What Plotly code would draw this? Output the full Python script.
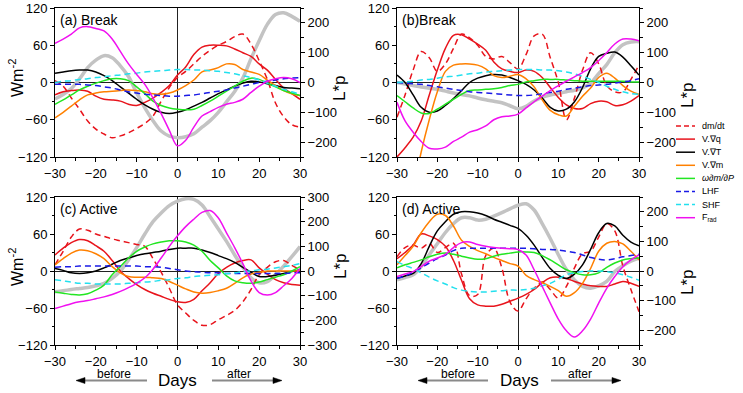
import plotly.graph_objects as go

# ---------------- data (days -30..30 step 2) ----------------
days = list(range(-30, 31, 2))

# Panel (a) Break
a_dmdt  = [3,-6,-25,-43,-62,-75,-83,-89,-86,-81,-74,-66,-54,-30,-8,8,18,30,42,52,60,66,74,78,62,35,5,-33,-55,-68,-72]
a_vq    = [-20,-15,-13,-12,-14,-22,-27,-28,-30,-35,-37,-32,-25,-16,-5,12,25,45,57,60,60,59,54,48,42,30,20,5,-9,-18,-27]
a_vt    = [15,17,19,20,20,17,11,3,-7,-17,-27,-36,-43,-48,-50,-48,-44,-38,-32,-25,-18,-12,-6,-1,2,1,-2,-5,-8,-9,-10]
a_vm    = [-57,-48,-38,-28,-20,-17,-15,-14,-13,-12,-13,-15,-18,-19,-17,-12,-5,4,17,20,24,30,29,21,17,13,4,-5,-13,-18,-21]
a_omega = [-35,-28,-20,-12,-6,-1,3,6,6,3,-7,-18,-30,-37,-41,-43,-44,-43,-37,-30,-22,-14,-6,2,7,5,-1,-7,-13,-17,-21]
a_lhf   = [-3,-3,-3,-3,-4,-5,-7,-9,-12,-15,-17,-19,-20,-21,-22,-22,-21,-20,-18,-16,-14,-12,-9,-6,-3,0,2,4,6,7,8]
a_shf   = [0,2,3,5,6,8,9,11,12,14,15,17,18,19,20,21,21,20,20,19,18,16,14,11,8,4,-1,-6,-11,-15,-19]
a_frad  = [63,70,78,88,90,87,83,70,50,30,13,-3,-25,-50,-77,-102,-93,-72,-54,-47,-40,-35,-32,-27,-16,-6,2,6,8,6,0]
a_lp    = [-55,-40,-20,12,50,75,90,83,56,20,-35,-85,-128,-163,-180,-185,-182,-172,-150,-128,-100,-65,-30,15,80,140,195,228,234,222,205]

# Panel (b) Break
b_dmdt  = [-56,-20,20,50,40,18,30,55,78,72,60,42,38,42,32,22,45,75,78,40,0,-60,-25,20,48,30,-5,-15,-15,5,28]
b_vq    = [-120,-105,-88,-62,-20,20,55,76,77,70,62,52,33,22,18,16,20,18,8,-8,-24,-36,-42,-42,-34,-30,-31,-37,-36,-30,-21]
b_vt    = [12,0,-20,-40,-48,-46,-37,-26,-13,0,7,11,13,12,8,3,-3,-12,-25,-40,-46,-43,-31,-8,22,42,47,49,41,27,12]
b_vm    = [-280,-230,-175,-112,-60,-15,18,28,30,30,28,22,11,8,10,13,6,-7,-28,-45,-52,-54,-38,-22,-9,8,15,7,-5,-14,-19]
b_omega = [-21,-31,-41,-49,-50,-43,-35,-27,-19,-13,-12,-11,-10,-8,-5,-3,1,3,5,5,5,4,3,2,2,2,2,2,2,1,1]
b_lhf   = [0,-1,-2,-3,-5,-7,-9,-11,-13,-15,-16,-17,-18,-19,-20,-21,-21,-20,-18,-16,-14,-11,-9,-7,-5,-4,-3,-1,1,3,6]
b_shf   = [0,1,2,4,5,7,9,10,12,14,15,17,18,19,20,21,21,21,20,20,19,17,14,10,5,0,-6,-11,-15,-18,-19]
b_frad  = [-32,-62,-80,-95,-106,-107,-104,-95,-88,-80,-76,-70,-60,-55,-54,-51,-41,-31,-22,-13,-5,2,9,16,24,35,48,62,70,70,67]
b_lp    = [0,-5,-10,-15,-19,-23,-29,-35,-40,-45,-52,-58,-63,-68,-78,-88,-80,-62,-50,-42,-37,-31,-26,-18,-3,30,60,100,127,136,137]

# Panel (c) Active
c_dmdt  = [10,32,55,68,66,60,56,52,49,46,43,40,20,-2,-28,-55,-68,-80,-88,-87,-79,-72,-64,-50,-30,-6,6,15,17,9,2]
c_vq    = [26,37,46,51,49,41,32,17,0,-12,-22,-30,-36,-41,-46,-50,-51,-46,-32,-19,-4,6,13,17,18,5,-5,-14,-19,-22,-23]
c_vt    = [4,1,-3,-4,-3,0,5,11,17,21,25,28,30,32,35,37,37,37,34,30,25,20,14,6,-2,-9,-9,-7,-4,-1,2]
c_vm    = [10,20,29,34,33,28,20,7,-3,-9,-10,-10,-11,-12,-17,-23,-29,-34,-36,-35,-32,-28,-20,-11,-5,-2,0,0,0,0,1]
c_omega = [-34,-36,-38,-39,-37,-31,-23,-6,7,21,32,39,44,47,49,49,47,42,32,17,5,-8,-16,-19,-20,-18,-14,-10,-6,0,7]
c_lhf   = [6,7,7,8,8,8,8,8,8,8,8,7,7,6,4,2,0,-1,-2,-3,-3,-4,-4,-4,-4,-4,-4,-4,-4,-3,-3]
c_shf   = [-14,-16,-18,-20,-20,-21,-21,-21,-21,-20,-19,-18,-17,-15,-14,-12,-11,-9,-8,-7,-6,-4,-3,-1,0,2,3,5,7,9,12]
c_frad  = [-61,-57,-53,-50,-48,-45,-42,-38,-33,-27,-20,-11,3,21,40,57,72,84,95,98,86,62,38,12,-16,-35,-39,-35,-24,-12,4]
c_lp    = [-84,-80,-75,-71,-67,-60,-50,-30,0,45,95,150,200,235,265,283,293,290,268,220,170,120,65,15,-28,-48,-43,-15,20,58,99]

# Panel (d) Active
d_dmdt  = [23,38,42,37,45,30,38,45,-5,-40,-38,25,37,5,-50,-65,-45,-28,-18,-30,-44,-25,5,28,32,55,77,65,8,-30,-66]
d_vq    = [20,30,42,60,57,51,40,17,-15,-45,-55,-57,-57,-54,-49,-44,-38,-30,-19,-11,-10,-12,-17,-21,-24,-25,-25,-21,-17,-20,-25]
d_vt    = [-12,-8,-4,12,40,65,80,92,96,96,94,90,84,79,74,69,58,42,22,4,-7,-12,-5,10,35,62,77,73,58,47,41]
d_vm    = [10,25,40,62,80,92,90,73,50,40,33,28,22,17,12,8,-7,-14,-19,-25,-32,-41,-35,-20,4,32,45,48,44,32,18]
d_omega = [5,10,14,18,23,27,29,27,24,21,19,20,24,27,29,31,31,30,25,18,10,2,-3,-6,-6,-3,6,13,18,20,21]
d_lhf   = [-12,-8,-2,5,13,20,26,33,37,37,37,37,37,37,37,37,37,36,35,35,34,32,30,26,22,19,18,20,23,25,27]
d_shf   = [15,9,4,-3,-10,-16,-21,-27,-31,-33,-34,-34,-33,-32,-31,-31,-30,-28,-24,-20,-13,-6,-3,-1,0,0,-1,-3,-6,-10,-15]
d_frad  = [-9,-5,-1,7,16,21,27,38,46,47,43,40,38,37,36,35,26,2,-25,-52,-78,-97,-107,-97,-78,-52,-28,-9,7,18,26]
d_lp    = [-30,-22,-13,15,55,92,130,160,180,180,172,175,185,197,210,222,227,206,160,110,55,5,-30,-52,-58,-50,-35,-2,18,33,43]

series_names = ["dm/dt", "V.\u2207q", "V.\u2207T", "V.\u2207m", "<i>\u03c9\u2202m/\u2202P</i>", "LHF", "SHF", "F<sub>rad</sub>"]
panel_data = [
    ("(a) Break", [a_dmdt, a_vq, a_vt, a_vm, a_omega, a_lhf, a_shf, a_frad], a_lp),
    ("(b)Break", [b_dmdt, b_vq, b_vt, b_vm, b_omega, b_lhf, b_shf, b_frad], b_lp),
    ("(c) Active", [c_dmdt, c_vq, c_vt, c_vm, c_omega, c_lhf, c_shf, c_frad], c_lp),
    ("(d) Active", [d_dmdt, d_vq, d_vt, d_vm, d_omega, d_lhf, d_shf, d_frad], d_lp),
]

# ---------------- styling / layout ----------------
W, H = 743, 393
FONT = "Liberation Sans, Arial, sans-serif"
DASH = "6px,4px"
styles = [("#e8141c", DASH), ("#e8141c", "solid"), ("#000000", "solid"), ("#ff8000", "solid"),
          ("#22e622", "solid"), ("#1a1ae6", DASH), ("#22e0ee", DASH), ("#f010f0", "solid")]
GRAY = "#c3c3c3"

# page-pixel boxes: left, right, top, bottom ; right-axis half range
boxes = [(55, 300, 8, 157, 250), (397, 639, 8, 157, 250),
         (55, 300, 197, 345, 300), (397, 639, 197, 345, 250)]

def fx(p):
    return p / W

def fy(p):
    return 1 - p / H

fig = go.Figure()
layout = dict(width=W, height=H, margin=dict(l=0, r=0, t=0, b=0, pad=0), autosize=False,
              paper_bgcolor="white", plot_bgcolor="white", showlegend=False,
              font=dict(family=FONT, color="black", size=13))
annotations, shapes = [], []
tickfont = dict(family=FONT, size=13, color="black")

for i, (label, vals, lp) in enumerate(panel_data):
    k = i + 1
    base, over = 2 * k - 1, 2 * k
    xname = "x" if k == 1 else f"x{k}"
    bname = "y" if base == 1 else f"y{base}"
    oname = f"y{over}"
    l, r, t, b, rr = boxes[i]
    layout["xaxis" if k == 1 else f"xaxis{k}"] = dict(
        domain=[fx(l), fx(r)], anchor=bname, range=[-30, 30], tickmode="linear", tick0=-30, dtick=10,
        ticks="outside", ticklen=4, tickcolor="black", showline=True, linecolor="black", linewidth=1,
        mirror=True, showgrid=False, zeroline=True, zerolinecolor="#222", zerolinewidth=1,
        automargin=False, minor=dict(ticks="outside", dtick=5, ticklen=2.5, tickcolor="black"),
        tickfont=tickfont)
    layout["yaxis" if base == 1 else f"yaxis{base}"] = dict(
        domain=[fy(b), fy(t)], anchor=xname, side="right", range=[-rr, rr], tickmode="linear",
        tick0=0, dtick=100, ticks="outside", ticklen=4, tickcolor="black", showline=True,
        linecolor="black", linewidth=1, showgrid=False, zeroline=True, zerolinecolor="#222",
        zerolinewidth=1, automargin=False,
        minor=dict(ticks="outside", dtick=50, ticklen=2.5, tickcolor="black"), tickfont=tickfont)
    layout[f"yaxis{over}"] = dict(
        domain=[fy(b), fy(t)], anchor=xname, overlaying=bname, side="left", range=[-120, 120],
        tickmode="linear", tick0=-120, dtick=60, ticks="outside", ticklen=4, tickcolor="black",
        showline=True, linecolor="black", linewidth=1, showgrid=False, zeroline=False,
        automargin=False, minor=dict(ticks="outside", dtick=30, ticklen=2.5, tickcolor="black"),
        tickfont=tickfont)

    # L*p (gray, right axis) first so it sits underneath
    fig.add_trace(go.Scatter(x=days, y=lp, mode="lines", xaxis=xname, yaxis=bname,
                             line=dict(color=GRAY, width=3.5, shape="spline", smoothing=1),
                             hoverinfo="skip"))
    for (col, dash), name, v in zip(styles, series_names, vals):
        fig.add_trace(go.Scatter(x=days, y=v, mode="lines", name=name, xaxis=xname, yaxis=oname,
                                 line=dict(color=col, width=1.5, dash=dash, shape="spline", smoothing=1)))
    # panel label
    annotations.append(dict(text=label, x=fx(l + 3), y=fy(t + 12), xref="paper", yref="paper",
                            xanchor="left", yanchor="middle", showarrow=False,
                            font=dict(family=FONT, size=14, color="black")))

# axis titles
for yc in (78, 267):
    annotations.append(dict(text="Wm<sup>-2</sup>", x=fx(16), y=fy(yc), xref="paper", yref="paper",
                            textangle=-90, showarrow=False, xanchor="center", yanchor="middle",
                            font=dict(family=FONT, size=16, color="black")))
for xc, yc in ((339, 88), (687, 95), (340, 266), (687, 282)):
    annotations.append(dict(text="L*p", x=fx(xc), y=fy(yc), xref="paper", yref="paper",
                            textangle=-90, showarrow=False, xanchor="center", yanchor="middle",
                            font=dict(family=FONT, size=17, color="black")))

# Days / before / after with arrows (shaft gray, head black)
def head_path(xtip, y, direction):
    xb = xtip - direction * 9
    return (f"M {fx(xtip)} {fy(y)} L {fx(xb)} {fy(y - 3)} L {fx(xb)} {fy(y + 3)} Z")

for (lhead, ltail, rtail, rhead, bx, dx, ax_) in ((76, 147, 212, 282, 114, 177, 239),
                                                  (418, 488, 551, 621, 458, 519, 580)):
    yarr = 380.5
    shapes.append(dict(type="line", xref="paper", yref="paper", x0=fx(lhead + 8), x1=fx(ltail),
                       y0=fy(yarr), y1=fy(yarr), line=dict(color="#8a8a8a", width=2)))
    shapes.append(dict(type="line", xref="paper", yref="paper", x0=fx(rtail), x1=fx(rhead - 8),
                       y0=fy(yarr), y1=fy(yarr), line=dict(color="#8a8a8a", width=2)))
    shapes.append(dict(type="path", xref="paper", yref="paper", path=head_path(lhead, yarr, -1),
                       fillcolor="black", line=dict(color="black", width=0.5)))
    shapes.append(dict(type="path", xref="paper", yref="paper", path=head_path(rhead, yarr, 1),
                       fillcolor="black", line=dict(color="black", width=0.5)))
    for txt, xc, yc, sz in (("before", bx, 373.5, 12), ("after", ax_, 373.5, 12), ("Days", dx, 380, 17)):
        annotations.append(dict(text=txt, x=fx(xc), y=fy(yc), xref="paper", yref="paper",
                                xanchor="center", yanchor="middle", showarrow=False,
                                font=dict(family=FONT, size=sz, color="black")))

# legend (drawn as key samples + labels in the right margin)
LEG_X0, LEG_X1, LEG_TX, LEG_Y0, LEG_STEP = 676, 695, 700, 126, 13.1
for j, ((col, dash), name) in enumerate(zip(styles, series_names)):
    yy = LEG_Y0 + j * LEG_STEP
    shapes.append(dict(type="line", xref="paper", yref="paper", x0=fx(LEG_X0), x1=fx(LEG_X1),
                       y0=fy(yy), y1=fy(yy), line=dict(color=col, width=1.5,
                       dash="5px,3px" if dash != "solid" else "solid")))
    annotations.append(dict(text=name, x=fx(LEG_TX), y=fy(yy), xref="paper", yref="paper",
                            xanchor="left", yanchor="middle", showarrow=False,
                            font=dict(family=FONT, size=9, color="black")))

layout["annotations"] = annotations
layout["shapes"] = shapes
fig.update_layout(**layout)
fig.write_html("out.html", config={"displayModeBar": False},
               post_script="document.body.style.margin='0px';")
